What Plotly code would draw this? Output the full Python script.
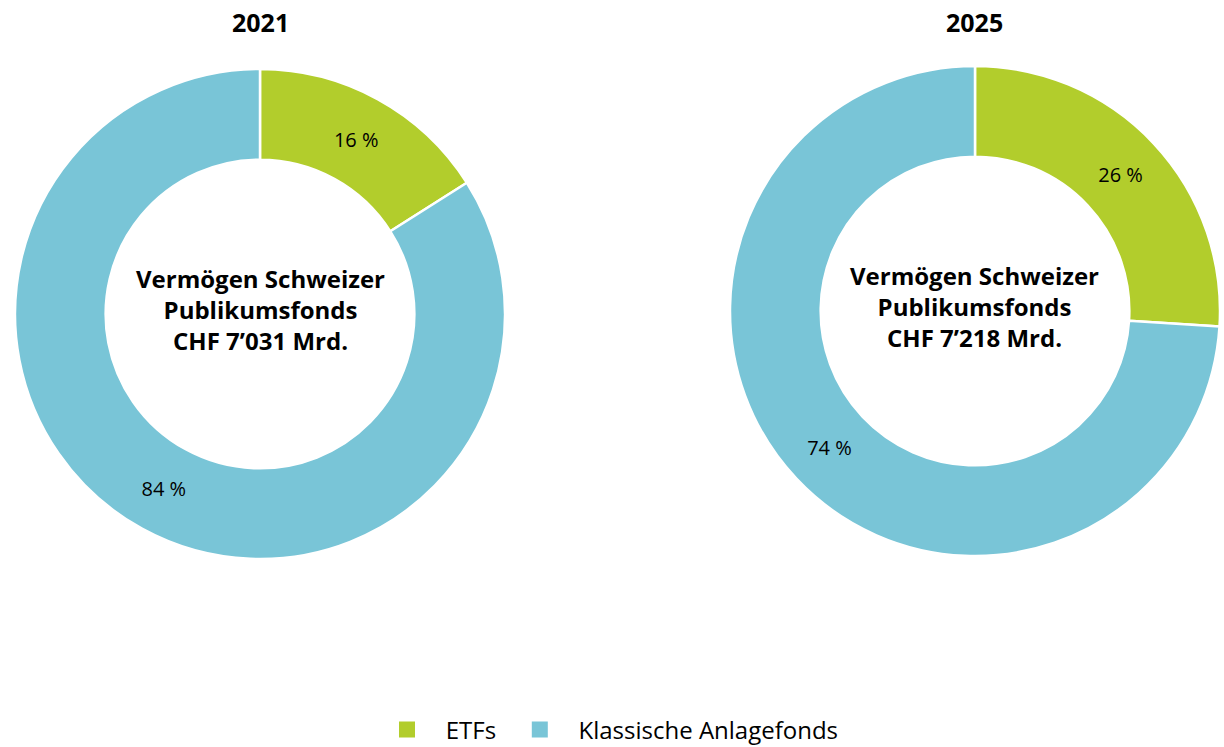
import plotly.graph_objects as go

categories = ["ETFs", "Klassische Anlagefonds"]
values_2021 = [16, 84]
values_2025 = [26, 74]
years = ["2021", "2025"]
totals = ["CHF 7’031 Mrd.", "CHF 7’218 Mrd."]
colors = ["#B2CD2C", "#79C5D7"]

W, H = 1224, 747
FONT = "Open Sans"
NB = "\u00a0"

def dom(cx, cy, r):
    return dict(x=[max(0, (cx - r) / W), min(1, (cx + r) / W)],
                y=[(H - cy - r) / H, (H - cy + r) / H])

d1 = dom(260, 314, 245)
d2 = dom(975, 311, 245)

fig = go.Figure()
for vals, d in [(values_2021, d1), (values_2025, d2)]:
    fig.add_trace(go.Pie(
        labels=categories, values=vals, domain=d, hole=0.63,
        sort=False, direction="clockwise", rotation=0,
        marker=dict(colors=colors, line=dict(color="white", width=2.5)),
        texttemplate="%{value} %",
        textposition="inside", insidetextorientation="horizontal",
        textfont=dict(family=FONT, size=20, color="black"),
        showlegend=False, hoverinfo="label+value",
    ))

# legend entries (square markers)
for i, (name, c) in enumerate(zip(categories, colors)):
    fig.add_trace(go.Scatter(
        x=[None], y=[None], mode="markers",
        name=NB * 3 + name + (NB * 3 if i == 0 else ""),
        marker=dict(symbol="square", size=16, color=c),
        showlegend=True, hoverinfo="skip",
    ))

annotations = []
for (cx, cy), yr, tot in [((260, 314), years[0], totals[0]), ((975, 311), years[1], totals[1])]:
    annotations.append(dict(x=cx / W, y=1 - 22 / H, xref="paper", yref="paper",
                            text="<b>" + yr + "</b>", showarrow=False,
                            font=dict(family=FONT, size=25, color="black"),
                            xanchor="center", yanchor="middle"))
    annotations.append(dict(x=cx / W, y=1 - (cy - 5) / H, xref="paper", yref="paper",
                            text="<b>Vermögen Schweizer<br>Publikumsfonds<br>" + tot + "</b>",
                            showarrow=False, align="center",
                            font=dict(family=FONT, size=24, color="black"),
                            xanchor="center", yanchor="middle"))

fig.update_layout(
    width=W, height=H,
    margin=dict(l=0, r=0, t=0, b=0, autoexpand=False),
    paper_bgcolor="white", plot_bgcolor="white",
    annotations=annotations,
    xaxis=dict(visible=False), yaxis=dict(visible=False),
    legend=dict(orientation="h", x=387 / W, xanchor="left", y=17 / H, yanchor="middle",
                font=dict(family=FONT, size=24, color="black"),
                itemsizing="trace", traceorder="normal",
                bgcolor="rgba(0,0,0,0)"),
)
fig.write_html("out.html", config={"displayModeBar": False},
               post_script="document.body.style.margin='0';")
